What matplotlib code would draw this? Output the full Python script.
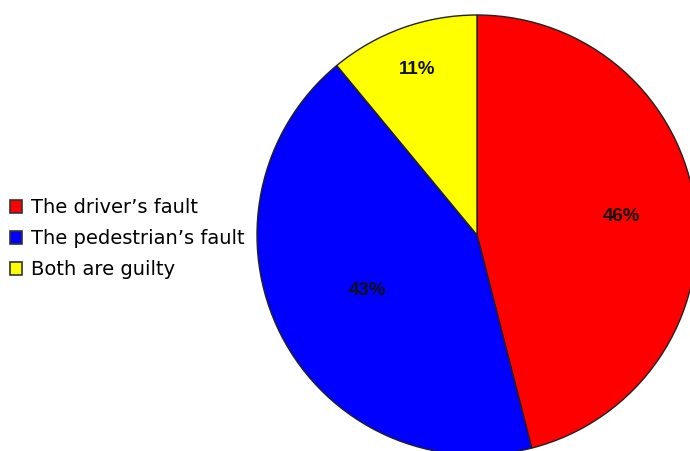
import matplotlib
matplotlib.use("Agg")
import matplotlib.pyplot as plt
import numpy as np
from matplotlib.patches import Patch

categories = ["The driver\u2019s fault", "The pedestrian\u2019s fault", "Both are guilty"]
values = [46, 43, 11]
colors = ["#ff0000", "#0000ff", "#ffff00"]
label_dist = [0.66, 0.56, 0.80]

W, H = 690, 451
cx, cy, R = 477, 235, 220

fig = plt.figure(figsize=(W / 100, H / 100), dpi=100)
ax = fig.add_axes([0, 0, 1, 1])
wedges, _ = ax.pie(values, colors=colors, startangle=90, counterclock=False,
                   radius=1.0, center=(0, 0),
                   wedgeprops=dict(edgecolor="#222222", linewidth=1.0))
ax.set_xlim(-cx / R, (W - cx) / R)
ax.set_ylim(-(H - cy) / R, cy / R)
ax.set_aspect("equal")
ax.axis("off")

for w, v, d in zip(wedges, values, label_dist):
    ang = np.deg2rad((w.theta1 + w.theta2) / 2)
    ax.text(d * np.cos(ang), d * np.sin(ang), f"{v}%", ha="center", va="center",
            fontsize=13.5, fontweight="bold", color="#111111", family="Liberation Sans")

handles = [Patch(facecolor=c, edgecolor="#333333", linewidth=1.2) for c in colors]
leg = fig.legend(handles, categories, loc="upper left", bbox_to_anchor=(0.003, 0.578),
                 frameon=False, handlelength=0.65, handleheight=0.65,
                 handletextpad=0.45, labelspacing=0.62, borderaxespad=0,
                 prop={"family": "DejaVu Sans", "size": 14})

fig.savefig("out.png", dpi=100)
